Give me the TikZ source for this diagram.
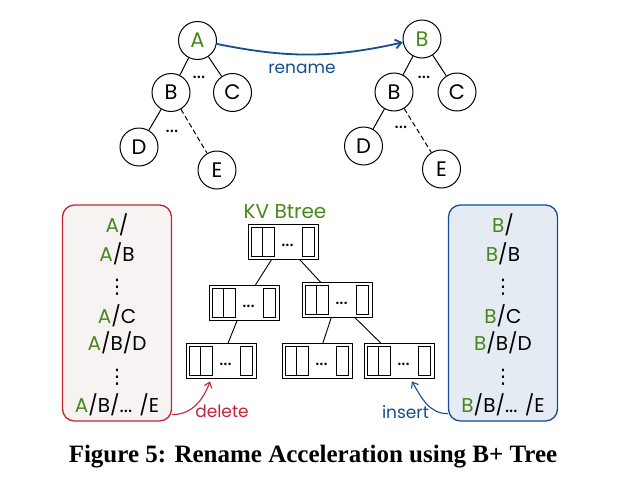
\documentclass[tikz,border=0pt]{standalone}
\usepackage{fontspec}
\setmainfont{Poppins}
\newfontfamily\captionfont{Liberation Serif}
\newfontfamily\symfont{DejaVu Sans}
\usetikzlibrary{positioning,calc,arrows.meta}
\definecolor{kvgreen}{RGB}{72,135,28}
\definecolor{renblue}{RGB}{22,78,140}
\definecolor{delred}{RGB}{192,38,52}
\definecolor{delfill}{RGB}{248,243,243}
\definecolor{insfill}{RGB}{228,235,242}
\tikzstyle{treenode}=[circle,draw,line width=1pt,minimum size=38pt,inner sep=0pt,font=\fontsize{21}{21}\selectfont]
\tikzstyle{treeedge}=[line width=1pt]
\tikzstyle{hiddenedge}=[line width=1pt,dash pattern=on 5pt off 3pt]
\tikzstyle{btbox}=[draw,line width=0.9pt,minimum width=70pt,minimum height=35pt,inner sep=0pt]
\tikzstyle{pathbox}=[rounded corners=12pt,line width=1.3pt,minimum width=109pt,minimum height=216pt]
\tikzstyle{pathtext}=[font=\fontsize{20}{20}\selectfont,inner sep=0pt]
\tikzstyle{labeltext}=[font=\fontsize{17}{17}\selectfont,inner sep=0pt,anchor=base]
\tikzstyle{dotstext}=[font=\fontsize{20}{20}\selectfont,inner sep=0pt]
\newcommand{\vdotsbig}{{\symfont\fontsize{20}{20}\selectfont ⋮}}
\newcommand{\btnode}[2]{% Syntax: {name}{position}
\node[btbox] (#1) at (#2) {};
\draw[line width=0.8pt] ($(#1.south west)+(3.5,3.5)$) rectangle ($(#1.north west)+(15,-3.5)$);
\draw[line width=0.8pt] ($(#1.south west)+(15,3.5)$) rectangle ($(#1.north west)+(26.5,-3.5)$);
\draw[line width=0.8pt] ($(#1.south east)+(-16.5,3.5)$) rectangle ($(#1.north east)+(-4,-3.5)$);
\node[dotstext] (#1dots) at ($(#1.west)+(40,-3.5)$) {...};
}
\newcommand{\pathlist}[3]{% Syntax: {prefix}{center x}{renamed letter}
\node[pathtext,anchor=base] (#1a) at (#2,-232) {\textcolor{kvgreen}{#3}/};
\node[pathtext,anchor=base] (#1b) at (#2,-261) {\textcolor{kvgreen}{#3}/B};
\node[pathtext] (#1c) at (#2,-287) {\vdotsbig};
\node[pathtext,anchor=base] (#1d) at (#2,-323) {\textcolor{kvgreen}{#3}/C};
\node[pathtext,anchor=base] (#1e) at (#2,-350) {\textcolor{kvgreen}{#3}/B/D};
\node[pathtext] (#1f) at (#2,-377) {\vdotsbig};
\node[pathtext,anchor=base] (#1g) at (#2,-412) {\textcolor{kvgreen}{#3}/B/... /E};
}

\begin{document}
\begin{tikzpicture}[x=1pt,y=1pt]
	\useasboundingbox (0,0) rectangle (631,-490);
	% old tree
	\node[treenode] (A) at (197.5,-40.5) {\textcolor{kvgreen}{A}};
	\node[treenode] (B) at (171,-92.5) {B};
	\node[treenode] (C) at (232.5,-92.5) {C};
	\node[treenode] (D) at (139,-147) {D};
	\node[treenode] (E) at (217,-170) {E};
	\draw[treeedge] (A) -- (B);
	\draw[treeedge] (A) -- (C);
	\draw[treeedge] (B) -- (D);
	\draw[hiddenedge] (B) -- (E);
	\node[dotstext] (dotsBC) at (199,-77) {...};
	\node[dotstext] (dotsDE) at (172,-131) {...};
	% renamed tree
	\node[treenode] (Bt) at (422,-39) {\textcolor{kvgreen}{B}};
	\node[treenode] (Bs) at (394,-92) {B};
	\node[treenode] (Cs) at (457,-92) {C};
	\node[treenode] (Ds) at (363.5,-146) {D};
	\node[treenode] (Es) at (441.5,-169) {E};
	\draw[treeedge] (Bt) -- (Bs);
	\draw[treeedge] (Bt) -- (Cs);
	\draw[treeedge] (Bs) -- (Ds);
	\draw[hiddenedge] (Bs) -- (Es);
	\node[dotstext] (dotsBCs) at (424,-77) {...};
	\node[dotstext] (dotsDEs) at (401,-127) {...};
	\draw[renblue,line width=1.8pt,-{Straight Barb[length=6pt,width=9pt]}] (A.-10) to[bend right=12] (Bt.190);
	\node[labeltext,text=renblue] (rename) at (302,-73) {rename};
	% key lists
	\node[pathbox,draw=delred,fill=delfill] (oldkeys) at (117,-313) {};
	\node[pathbox,draw=renblue,fill=insfill] (newkeys) at (503,-313) {};
	\pathlist{old}{117}{A}
	\pathlist{new}{503}{B}
	% KV btree
	\node[pathtext,anchor=base,text=kvgreen] (kvlabel) at (285,-218) {KV Btree};
	\btnode{bt0}{283,-241.5}
	\btnode{bt1}{244,-303}
	\btnode{bt2}{337,-300}
	\btnode{bt3}{221,-361}
	\btnode{bt4}{317,-361}
	\btnode{bt5}{399,-361}
	\draw[line width=0.9pt] (bt0) -- (bt1);
	\draw[line width=0.9pt] (bt0) -- (bt2);
	\draw[line width=0.9pt] (bt1) -- (bt3);
	\draw[line width=0.9pt] (bt2) -- (bt4);
	\draw[line width=0.9pt] (bt2) -- (bt5);
	\draw[delred,line width=1.1pt,-{Straight Barb[length=5pt,width=8pt]}] ($(oldkeys.south east)+(0,7)$) to[out=0,in=-110] ($(bt3.south)+(-11,-2.5)$);
	\node[labeltext,text=delred] (delete) at (222,-417) {delete};
	\draw[renblue,line width=1.1pt,-{Straight Barb[length=5pt,width=8pt]}] ($(newkeys.south west)+(0,8)$) to[out=180,in=-60] ($(bt5.south)+(13,-2.5)$);
	\node[labeltext,text=renblue] (insert) at (405.5,-418) {insert};
	% caption
	\node[anchor=base,inner sep=0pt,font=\captionfont\bfseries\fontsize{25}{25}\selectfont] (caption) at (313,-462) {Figure 5: Rename Acceleration using B+ Tree};
\end{tikzpicture}
\end{document}
